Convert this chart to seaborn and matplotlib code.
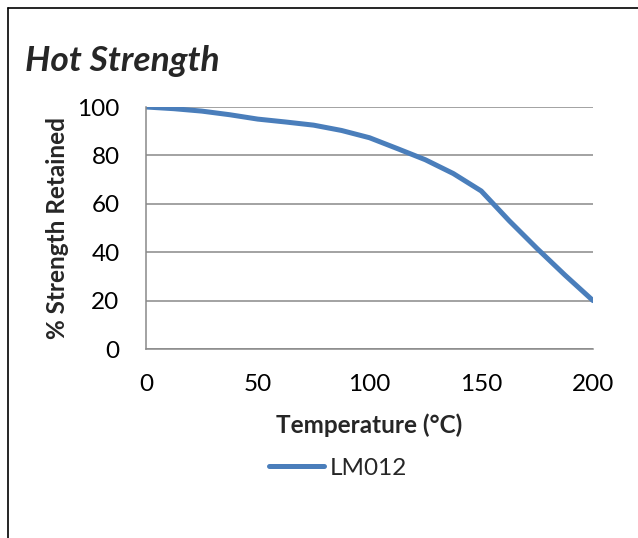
import matplotlib
matplotlib.use("Agg")
import matplotlib.pyplot as plt
from matplotlib.lines import Line2D
import seaborn as sns
import pandas as pd

# values
temperature = [0, 12.5, 25, 37.5, 50, 62.5, 75, 87.5, 100, 112.5, 125, 137.5,
               150, 162.5, 175, 187.5, 200]
strength = [100, 99.3, 98.3, 96.8, 95.0, 93.8, 92.5, 90.3, 87.3, 82.8, 78.2, 72.5,
            65.3, 53.0, 41.5, 30.5, 20]
series_name = "LM012"

df = pd.DataFrame({"Temperature": temperature, "Strength": strength, "Series": series_name})

sns.set_theme(style="white")
plt.rcParams["font.family"] = ["Lato", "DejaVu Sans"]

W, H = 638, 538
fig = plt.figure(figsize=(W / 100, H / 100), dpi=100)
ax = fig.add_axes([146 / W, 1 - 349 / H, (593 - 146) / W, (349 - 107) / H])

line_col = "#4A7EBB"
grid_col = "#898989"
sns.lineplot(data=df, x="Temperature", y="Strength", hue="Series",
             palette=[line_col], linewidth=3.6, ax=ax, legend=False)
for ln in ax.lines:
    ln.set_solid_capstyle("round")
    ln.set_solid_joinstyle("round")

ax.set_xlim(0, 200)
ax.set_ylim(0, 100)
ax.set_xticks([0, 50, 100, 150, 200])
ax.set_yticks([0, 20, 40, 60, 80, 100])
ax.yaxis.grid(True, color=grid_col, linewidth=1.1)
ax.set_axisbelow(True)
ax.tick_params(axis="both", length=0, labelsize=17.5, colors="black")
ax.tick_params(axis="y", pad=19)
ax.tick_params(axis="x", pad=18)
for s in ["top", "right"]:
    ax.spines[s].set_visible(False)
for s in ["left", "bottom"]:
    ax.spines[s].set_color(grid_col)
    ax.spines[s].set_linewidth(1.1)

ax.set_xlabel("Temperature (°C)", fontsize=17.5, fontweight="bold", labelpad=13)
ax.set_ylabel("% Strength Retained", fontsize=17.5, fontweight="bold", labelpad=6)

fig.text(25 / W, 1 - 71 / H, "Hot Strength", fontsize=25.5, fontweight="bold",
         fontstyle="italic", va="baseline", ha="left")

handle = Line2D([], [], color=line_col, linewidth=3.6, solid_capstyle="round")
fig.legend([handle], [series_name], loc="center", bbox_to_anchor=(338 / W, 1 - 468 / H),
           frameon=False, fontsize=17.5, handlelength=2.25, handletextpad=0.22)

# chart frame (only top and left edges are inside the picture)
fig.add_artist(Line2D([7.5 / W, 7.5 / W], [0, 1 - 7.5 / H], color="black", linewidth=1.2))
fig.add_artist(Line2D([7.5 / W, 1], [1 - 7.5 / H, 1 - 7.5 / H], color="black", linewidth=1.2))

fig.savefig("out.png", dpi=100)
